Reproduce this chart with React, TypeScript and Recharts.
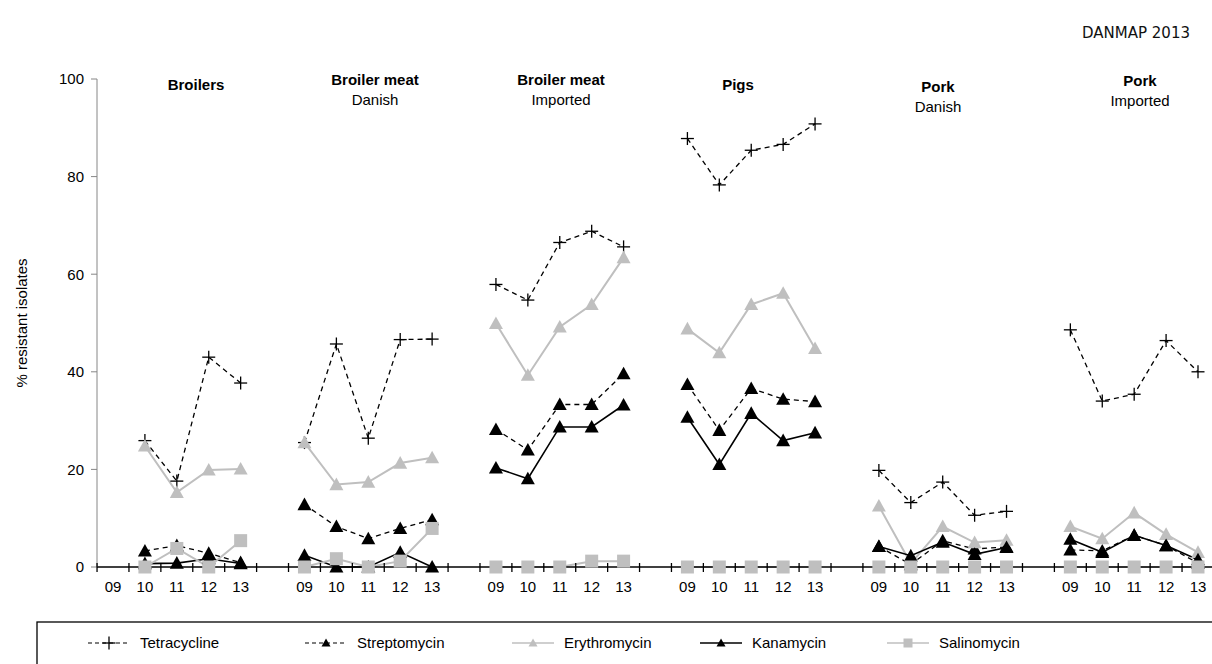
import React from 'react';
import { LineChart, Line, XAxis, YAxis } from 'recharts';

const years = ['09', '10', '11', '12', '13'];
const groupTitles = ['Broilers', 'Broiler meat', 'Broiler meat', 'Pigs', 'Pork', 'Pork'];
const groupSubtitles = ['', 'Danish', 'Imported', '', 'Danish', 'Imported'];
const yTicks = [0, 20, 40, 60, 80, 100];

// one row of five years per group
const tetracycline = [
  [null, 25.9, 17.6, 43.0, 37.7],
  [25.5, 45.7, 26.4, 46.6, 46.7],
  [57.9, 54.7, 66.5, 68.8, 65.6],
  [87.8, 78.3, 85.4, 86.6, 90.8],
  [19.8, 13.2, 17.4, 10.6, 11.4],
  [48.6, 34.0, 35.4, 46.4, 40.0],
];
const streptomycin = [
  [null, 3.3, 4.4, 2.8, 0.9],
  [12.8, 8.3, 5.8, 7.9, 9.7],
  [28.2, 24.0, 33.3, 33.3, 39.6],
  [37.4, 28.0, 36.6, 34.4, 33.9],
  [4.2, 0.5, 5.4, 3.7, 4.1],
  [3.5, 3.3, 6.5, 4.4, 0.8],
];
const erythromycin = [
  [null, 24.8, 15.3, 19.9, 20.1],
  [25.5, 16.9, 17.4, 21.3, 22.4],
  [49.9, 39.3, 49.2, 53.8, 63.4],
  [48.8, 43.9, 53.8, 56.1, 44.8],
  [12.5, 0.7, 8.3, 5.0, 5.5],
  [8.3, 5.8, 11.1, 6.7, 3.0],
];
const kanamycin = [
  [null, 0.7, 0.8, 1.7, 0.7],
  [2.4, 0, 0, 3.0, 0],
  [20.3, 18.1, 28.7, 28.7, 33.2],
  [30.7, 21.0, 31.5, 25.9, 27.5],
  [4.2, 2.3, 5.1, 2.6, 4.0],
  [5.7, 3.0, 6.5, 4.4, 1.5],
];
const salinomycin = [
  [null, 0, 3.8, 0, 5.4],
  [0, 1.7, 0, 1.2, 7.9],
  [0, 0, 0, 1.2, 1.2],
  [0, 0, 0, 0, 0],
  [0, 0, 0, 0, 0],
  [0, 0, 0, 0, 0],
];

const W = 1212;
const H = 664;
const FONT = '"Liberation Sans", Arial, sans-serif';
const GRAY = '#BFBFBF';

// build the table, with an empty category between groups
const rows: any[] = [];
groupTitles.forEach((_, g) => {
  years.forEach((yr, i) => {
    rows.push({
      key: `g${g}-${yr}`,
      year: yr,
      tet: tetracycline[g][i],
      strep: streptomycin[g][i],
      ery: erythromycin[g][i],
      kan: kanamycin[g][i],
      sal: salinomycin[g][i],
    });
  });
  if (g < groupTitles.length - 1) {
    rows.push({ key: `gap${g}`, year: '', tet: null, strep: null, ery: null, kan: null, sal: null });
  }
});

const PLOT_L = 97;
const PLOT_R = W;
const PAD_L = 16;
const PAD_R = 14;
const STEP = (PLOT_R - PLOT_L - PAD_L - PAD_R) / (rows.length - 1);

const plus = (cx: number, cy: number, k?: string) => (
  <g key={k}>
    <line x1={cx - 6.5} y1={cy} x2={cx + 6.5} y2={cy} stroke="#000" strokeWidth={1.3} />
    <line x1={cx} y1={cy - 6.5} x2={cx} y2={cy + 6.5} stroke="#000" strokeWidth={1.3} />
  </g>
);
const tri = (cx: number, cy: number, fill: string, s = 7, k?: string) => (
  <path key={k} d={`M${cx},${cy - s} L${cx + s},${cy + s * 0.8} L${cx - s},${cy + s * 0.8} Z`} fill={fill} />
);
const square = (cx: number, cy: number, s = 6.5, k?: string) => (
  <rect key={k} x={cx - s} y={cy - s} width={s * 2} height={s * 2} fill={GRAY} />
);

const dot = (kind: string) => (p: any) => {
  const { cx, cy, value, index } = p;
  const k = `${kind}-${index}`;
  if (value == null || cx == null || cy == null) return <g key={k} />;
  if (kind === 'tet') return plus(cx, cy, k);
  if (kind === 'strep' || kind === 'kan') return tri(cx, cy, '#000', 7, k);
  if (kind === 'ery') return tri(cx, cy, GRAY, 7, k);
  return square(cx, cy, 6.5, k);
};

const XTick = (p: any) => {
  const { x, y, payload } = p;
  const row = rows[payload.index];
  const last = payload.index === rows.length - 1;
  return (
    <g>
      <line x1={x - STEP / 2} y1={y - 4} x2={x - STEP / 2} y2={y + 5} stroke="#000" strokeWidth={1.3} />
      {last && <line x1={x + STEP / 2} y1={y - 4} x2={x + STEP / 2} y2={y + 5} stroke="#000" strokeWidth={1.3} />}
      <text x={x} y={y + 25} textAnchor="middle" fontSize={15} fontFamily={FONT} fill="#000">
        {row ? row.year : ''}
      </text>
    </g>
  );
};

const legendItems = [
  { name: 'Tetracycline', x: 88, kind: 'tet' },
  { name: 'Streptomycin', x: 305, kind: 'strep' },
  { name: 'Erythromycin', x: 512, kind: 'ery' },
  { name: 'Kanamycin', x: 700, kind: 'kan' },
  { name: 'Salinomycin', x: 887, kind: 'sal' },
];

const titlePos = [
  { x: 196, y: 90 },
  { x: 375, y: 85 },
  { x: 561, y: 85 },
  { x: 738, y: 90 },
  { x: 938, y: 92 },
  { x: 1140, y: 86 },
];

function Overlay() {
  const ly = 643;
  return (
    <svg width={W} height={H} style={{ position: 'absolute', left: 0, top: 0, pointerEvents: 'none' }}>
      <text x={1136} y={38} textAnchor="middle" fontSize={15} fontFamily='"DejaVu Sans", sans-serif' fill="#111">
        DANMAP 2013
      </text>
      <text
        transform={`translate(21,323) rotate(-90)`}
        textAnchor="middle"
        dominantBaseline="central"
        fontSize={15}
        fontFamily={FONT}
        fill="#000"
      >
        % resistant isolates
      </text>
      {groupTitles.map((t, i) => (
        <g key={i}>
          <text x={titlePos[i].x} y={titlePos[i].y} textAnchor="middle" fontSize={15} fontWeight="bold" fontFamily={FONT} fill="#000">
            {t}
          </text>
          {groupSubtitles[i] && (
            <text x={titlePos[i].x} y={titlePos[i].y + 20} textAnchor="middle" fontSize={15} fontFamily={FONT} fill="#000">
              {groupSubtitles[i]}
            </text>
          )}
        </g>
      ))}
      <rect x={37} y={622} width={W} height={60} fill="none" stroke="#000" strokeWidth={1.3} />
      {legendItems.map((it) => {
        const dashed = it.kind === 'tet' || it.kind === 'strep';
        const col = it.kind === 'ery' || it.kind === 'sal' ? GRAY : '#000';
        const mx = it.x + 21;
        return (
          <g key={it.name}>
            <line
              x1={it.x}
              y1={ly}
              x2={it.x + 42}
              y2={ly}
              stroke={col}
              strokeWidth={dashed ? 1.2 : 1.6}
              strokeDasharray={dashed ? '4 3' : undefined}
            />
            {it.kind === 'tet' && plus(mx, ly)}
            {(it.kind === 'strep' || it.kind === 'kan') && tri(mx, ly, '#000', 4.5)}
            {it.kind === 'ery' && tri(mx, ly, GRAY, 4.5)}
            {it.kind === 'sal' && square(mx, ly, 4.5)}
            <text x={it.x + 52} y={ly + 5} fontSize={15} fontFamily={FONT} fill="#000">
              {it.name}
            </text>
          </g>
        );
      })}
    </svg>
  );
}

export default function App() {
  return (
    <div style={{ position: 'absolute', left: 0, top: 0, width: W, height: H, background: '#fff' }}>
      <LineChart width={W} height={H} data={rows} margin={{ top: 79, right: 0, left: 0, bottom: 67 }}>
        <XAxis
          dataKey="key"
          type="category"
          scale="point"
          padding={{ left: PAD_L, right: PAD_R }}
          height={30}
          interval={0}
          tickSize={0}
          tickMargin={0}
          tickLine={false}
          axisLine={{ stroke: '#000', strokeWidth: 1.6 }}
          tick={<XTick />}
        />
        <YAxis
          width={97}
          domain={[0, 100]}
          ticks={yTicks}
          tickSize={6}
          tickMargin={7}
          axisLine={{ stroke: '#868686', strokeWidth: 1 }}
          tickLine={{ stroke: '#868686' }}
          tick={{ fontSize: 15, fill: '#000', fontFamily: FONT }}
        />
        <Line dataKey="tet" stroke="#000" strokeWidth={1.3} strokeDasharray="5 4" dot={dot('tet')} isAnimationActive={false} connectNulls={false} />
        <Line dataKey="strep" stroke="#000" strokeWidth={1.3} strokeDasharray="5 4" dot={dot('strep')} isAnimationActive={false} connectNulls={false} />
        <Line dataKey="ery" stroke={GRAY} strokeWidth={2} dot={dot('ery')} isAnimationActive={false} connectNulls={false} />
        <Line dataKey="kan" stroke="#000" strokeWidth={1.6} dot={dot('kan')} isAnimationActive={false} connectNulls={false} />
        <Line dataKey="sal" stroke={GRAY} strokeWidth={2} dot={dot('sal')} isAnimationActive={false} connectNulls={false} />
      </LineChart>
      <Overlay />
    </div>
  );
}
